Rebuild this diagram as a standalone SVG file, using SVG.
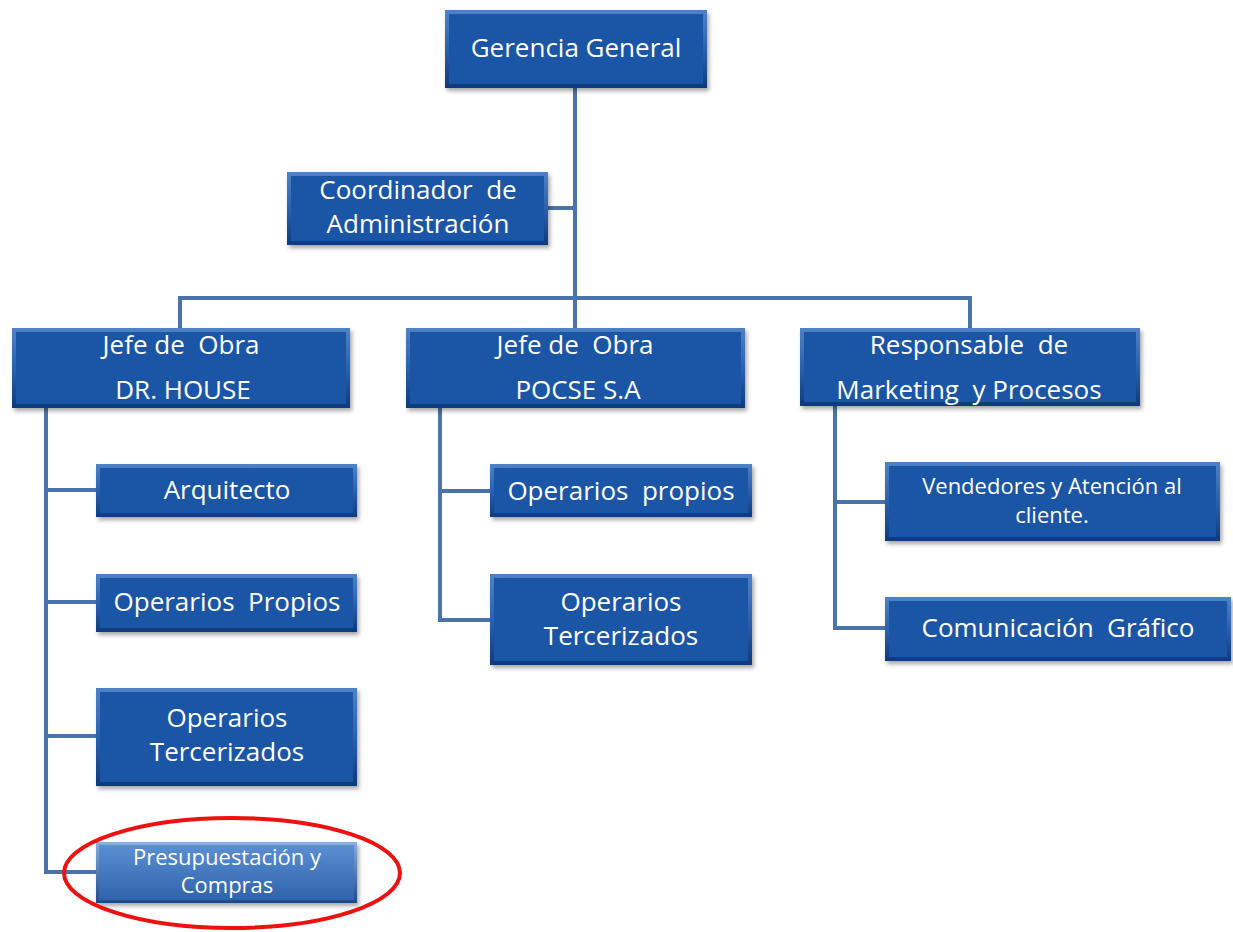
<svg xmlns="http://www.w3.org/2000/svg" width="1233" height="932" viewBox="0 0 1233 932">
<defs>
<linearGradient id="edge" x1="0" y1="0" x2="0" y2="1">
<stop offset="0" stop-color="#4f82c6"/>
<stop offset="0.5" stop-color="#2a62b0"/>
<stop offset="1" stop-color="#0e3a7a"/>
</linearGradient>
<linearGradient id="light" x1="0" y1="0" x2="0" y2="1">
<stop offset="0" stop-color="#5a8fd3"/>
<stop offset="1" stop-color="#2f63ab"/>
</linearGradient>
<linearGradient id="lightedge" x1="0" y1="0" x2="0" y2="1">
<stop offset="0" stop-color="#8ab0e0"/>
<stop offset="1" stop-color="#1d4a8a"/>
</linearGradient>
<filter id="sh" x="-10%" y="-10%" width="120%" height="130%">
<feDropShadow dx="2" dy="3" stdDeviation="2" flood-color="#000" flood-opacity="0.35"/>
</filter>
</defs>
<style>
.o{fill:url(#edge);filter:url(#sh)}
.i{fill:#1b55a5}
.ol{fill:url(#lightedge);filter:url(#sh)}
.il{fill:url(#light)}
text{font-family:"Open Sans","Liberation Sans",sans-serif;fill:#fff;text-anchor:middle;font-size:26px;white-space:pre}
.s{font-size:22px}
.c{stroke:#4a73a9;stroke-width:4;fill:none}
</style>
<rect width="1233" height="932" fill="#fff"/>
<g id="connectors">
<path class="c" d="M575 88V328M548 208H575M180 328V298H970V328"/>
<path class="c" d="M46 408V872H96M46 490H96M46 602H96M46 736H96"/>
<path class="c" d="M440 408V620H490M440 491H490"/>
<path class="c" d="M835 406V628H885M835 502H885"/>
</g>
<g id="gerencia">
<rect class="o" x="445" y="10" width="262" height="78"/><rect class="i" x="449" y="14" width="254" height="70"/>
<text x="576" y="57">Gerencia General</text>
</g>
<g id="coordinador">
<rect class="o" x="287" y="172" width="261" height="73"/><rect class="i" x="291" y="176" width="253" height="65"/>
<text x="418" y="199">Coordinador  de</text>
<text x="418" y="233">Administración</text>
</g>
<g id="jefe-drhouse">
<rect class="o" x="12" y="328" width="338" height="80"/><rect class="i" x="16" y="332" width="330" height="72"/>
<text x="181" y="354">Jefe de  Obra</text>
<text x="183" y="399">DR. HOUSE</text>
</g>
<g id="jefe-pocse">
<rect class="o" x="406" y="328" width="339" height="80"/><rect class="i" x="410" y="332" width="331" height="72"/>
<text x="575" y="354">Jefe de  Obra</text>
<text x="578" y="399">POCSE S.A</text>
</g>
<g id="responsable">
<rect class="o" x="800" y="328" width="340" height="78"/><rect class="i" x="804" y="332" width="332" height="70"/>
<text x="969" y="354">Responsable  de</text>
<text x="969" y="399">Marketing  y Procesos</text>
</g>
<g id="arquitecto">
<rect class="o" x="96" y="464" width="261" height="53"/><rect class="i" x="100" y="468" width="253" height="45"/>
<text x="227" y="499">Arquitecto</text>
</g>
<g id="operarios-propios-1">
<rect class="o" x="96" y="574" width="261" height="58"/><rect class="i" x="100" y="578" width="253" height="50"/>
<text x="227" y="611">Operarios  Propios</text>
</g>
<g id="operarios-tercerizados-1">
<rect class="o" x="96" y="688" width="261" height="98"/><rect class="i" x="100" y="692" width="253" height="90"/>
<text x="227" y="727">Operarios</text>
<text x="227" y="761">Tercerizados</text>
</g>
<g id="presupuestacion">
<rect class="ol" x="96" y="842" width="261" height="61"/><rect class="il" x="99" y="845" width="255" height="55"/>
<text class="s" x="227" y="865">Presupuestación y</text>
<text class="s" x="227" y="893">Compras</text>
</g>
<g id="operarios-propios-2">
<rect class="o" x="490" y="464" width="262" height="53"/><rect class="i" x="494" y="468" width="254" height="45"/>
<text x="621" y="500">Operarios  propios</text>
</g>
<g id="operarios-tercerizados-2">
<rect class="o" x="490" y="574" width="262" height="91"/><rect class="i" x="494" y="578" width="254" height="83"/>
<text x="621" y="611">Operarios</text>
<text x="621" y="645">Tercerizados</text>
</g>
<g id="vendedores">
<rect class="o" x="885" y="462" width="335" height="79"/><rect class="i" x="889" y="466" width="327" height="71"/>
<text class="s" x="1052" y="494">Vendedores y Atención al</text>
<text class="s" x="1052" y="523">cliente.</text>
</g>
<g id="comunicacion">
<rect class="o" x="885" y="597" width="346" height="64"/><rect class="i" x="889" y="601" width="338" height="56"/>
<text x="1058" y="637">Comunicación  Gráfico</text>
</g>
<ellipse cx="232" cy="873" rx="168" ry="55" fill="none" stroke="#ee1111" stroke-width="4"/>
</svg>
